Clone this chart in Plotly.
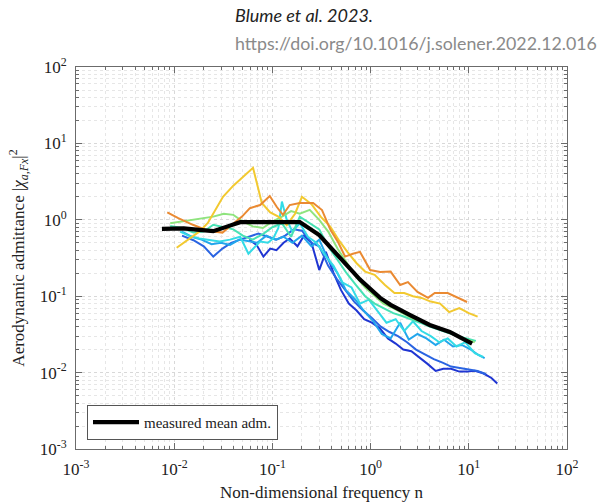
import plotly.graph_objects as go

# ---------------- data ----------------
mean_x = [0.0075, 0.0105, 0.0125, 0.018, 0.025, 0.035, 0.047, 0.1, 0.19, 0.3, 0.49, 0.78, 1.25, 1.6, 2.5, 4.0, 6.4, 10.8]
mean_y = [0.76, 0.77, 0.77, 0.74, 0.71, 0.82, 0.93, 0.935, 0.935, 0.63, 0.32, 0.165, 0.095, 0.077, 0.057, 0.042, 0.034, 0.024]

dblue_x = [0.058, 0.069, 0.081, 0.095, 0.11, 0.13, 0.15, 0.18, 0.21, 0.25, 0.3, 0.35, 0.42, 0.5, 0.6, 0.72, 0.86, 1.03, 1.24, 1.5, 1.8, 2.15, 2.6, 3.1, 3.8, 4.6, 5.5, 6.6, 8.0, 9.6, 11.5, 14.0, 17.0, 19.5]
dblue_y = [0.55, 0.47, 0.33, 0.42, 0.40, 0.50, 0.57, 0.45, 0.62, 0.50, 0.22, 0.38, 0.20, 0.12, 0.08, 0.065, 0.05, 0.045, 0.038, 0.028, 0.024, 0.02, 0.019, 0.016, 0.013, 0.0105, 0.0112, 0.0112, 0.0103, 0.0103, 0.0106, 0.0098, 0.0085, 0.0072]

blue_x = [0.012, 0.0157, 0.02, 0.025, 0.031, 0.038, 0.047, 0.058, 0.072, 0.09, 0.11, 0.135, 0.165, 0.2, 0.25, 0.3, 0.37, 0.45, 0.55, 0.68, 0.84, 1.03, 1.27, 1.56, 1.9, 2.35, 2.9, 3.6, 4.4, 5.4, 6.6, 8.1, 10.0, 12.3, 15.0]
blue_y = [0.62, 0.54, 0.45, 0.33, 0.42, 0.50, 0.55, 0.60, 0.66, 0.60, 0.55, 0.62, 0.75, 0.72, 0.50, 0.45, 0.25, 0.17, 0.12, 0.085, 0.065, 0.052, 0.040, 0.034, 0.030, 0.025, 0.020, 0.017, 0.015, 0.0135, 0.012, 0.0115, 0.011, 0.0105, 0.0095]

lblue_x = [0.012, 0.015, 0.019, 0.024, 0.03, 0.037, 0.046, 0.057, 0.07, 0.087, 0.107, 0.13, 0.16, 0.2, 0.25, 0.3, 0.37, 0.46, 0.56, 0.7, 0.85, 1.05, 1.3, 1.6, 2.0, 2.45, 3.0, 3.7, 4.6, 5.6, 6.9, 8.5, 10.5, 12.5, 14.5]
lblue_y = [0.70, 0.60, 0.55, 0.48, 0.50, 0.47, 0.55, 0.52, 0.50, 0.62, 0.55, 0.60, 0.50, 0.62, 0.45, 0.55, 0.30, 0.20, 0.12, 0.09, 0.065, 0.048, 0.032, 0.028, 0.045, 0.027, 0.032, 0.028, 0.023, 0.027, 0.022, 0.023, 0.020, 0.017, 0.0155]

cyan_x = [0.0115, 0.014, 0.018, 0.023, 0.029, 0.037, 0.047, 0.057, 0.075, 0.09, 0.102, 0.115, 0.125, 0.14, 0.16, 0.19, 0.23, 0.28, 0.34, 0.42, 0.52, 0.64, 0.78, 0.96, 1.2, 1.45, 1.8, 2.2, 2.7, 3.3, 4.1, 5.0, 6.1, 7.5, 9.2, 11.5, 14.0]
cyan_y = [0.70, 0.62, 0.57, 0.55, 0.52, 0.55, 0.60, 0.36, 0.52, 0.50, 0.57, 0.78, 1.73, 1.0, 0.70, 0.90, 0.60, 0.50, 0.35, 0.25, 0.15, 0.13, 0.08, 0.09, 0.062, 0.045, 0.050, 0.035, 0.047, 0.035, 0.030, 0.025, 0.028, 0.022, 0.025, 0.018, 0.016]

teal_x = [0.0091, 0.012, 0.0157, 0.02, 0.025, 0.032, 0.04, 0.05, 0.063, 0.08, 0.1, 0.125, 0.155, 0.19, 0.24, 0.3, 0.37, 0.46, 0.57, 0.71, 0.88, 1.1, 1.35, 1.7, 2.1, 2.6, 3.2, 4.0, 5.0, 6.2, 7.7, 9.5, 11.8]
teal_y = [0.83, 0.78, 0.68, 0.70, 0.86, 0.80, 0.75, 0.62, 0.55, 0.65, 0.80, 0.90, 0.60, 1.10, 0.90, 0.75, 0.45, 0.30, 0.20, 0.14, 0.10, 0.08, 0.07, 0.06, 0.055, 0.05, 0.045, 0.04, 0.036, 0.033, 0.030, 0.028, 0.026]

green_x = [0.0091, 0.012, 0.0157, 0.02, 0.025, 0.032, 0.04, 0.05, 0.063, 0.08, 0.1, 0.125, 0.155, 0.19, 0.24, 0.3, 0.37, 0.46, 0.57, 0.71, 0.88, 1.1, 1.35, 1.7, 2.1, 2.6, 3.2, 4.0, 5.0, 6.2, 7.7, 9.5, 11.5]
green_y = [0.90, 0.95, 1.00, 1.05, 1.10, 1.20, 1.16, 0.95, 0.82, 0.78, 0.95, 1.10, 1.30, 1.20, 1.35, 1.00, 0.70, 0.42, 0.28, 0.18, 0.13, 0.10, 0.08, 0.07, 0.06, 0.052, 0.047, 0.042, 0.037, 0.033, 0.030, 0.027, 0.025]

yellow_x = [0.0106, 0.014, 0.018, 0.022, 0.027, 0.0314, 0.04, 0.0526, 0.0635, 0.078, 0.095, 0.115, 0.14, 0.17, 0.2, 0.25, 0.31, 0.39, 0.47, 0.58, 0.72, 0.88, 1.1, 1.4, 1.75, 2.2, 2.7, 3.3, 4.1, 5.1, 6.3, 8.0, 10.0, 12.3]
yellow_y = [0.43, 0.55, 0.70, 0.91, 1.40, 2.00, 2.80, 3.90, 4.80, 1.66, 1.25, 1.10, 0.85, 1.20, 2.00, 1.60, 1.10, 0.81, 0.55, 0.38, 0.27, 0.21, 0.19, 0.14, 0.11, 0.11, 0.10, 0.095, 0.085, 0.08, 0.062, 0.07, 0.06, 0.054]

orange_x = [0.0085, 0.011, 0.0155, 0.022, 0.031, 0.04, 0.049, 0.059, 0.075, 0.094, 0.111, 0.128, 0.15, 0.19, 0.26, 0.32, 0.39, 0.47, 0.55, 0.66, 0.78, 0.99, 1.25, 1.6, 2.0, 2.4, 3.0, 3.85, 4.5, 6.1, 7.8, 9.6]
orange_y = [1.25, 1.05, 0.86, 0.72, 0.68, 0.90, 1.10, 1.42, 1.56, 2.05, 1.47, 1.16, 1.56, 1.66, 1.66, 1.34, 0.74, 0.50, 0.33, 0.36, 0.38, 0.22, 0.207, 0.21, 0.14, 0.153, 0.114, 0.095, 0.11, 0.11, 0.095, 0.084]

series = [
    (dblue_x, dblue_y, "#1f35d2"),
    (blue_x, blue_y, "#2a64e2"),
    (lblue_x, lblue_y, "#22a6ec"),
    (cyan_x, cyan_y, "#34dbe6"),
    (teal_x, teal_y, "#48e2b4"),
    (green_x, green_y, "#8fe47e"),
    (yellow_x, yellow_y, "#f2c930"),
    (orange_x, orange_y, "#ea8a32"),
]

x_ticks = [1e-3, 1e-2, 1e-1, 1e0, 1e1, 1e2]
x_ticktext = ["10<sup>-3</sup>", "10<sup>-2</sup>", "10<sup>-1</sup>", "10<sup>0</sup>", "10<sup>1</sup>", "10<sup>2</sup>"]
y_ticks = [1e-3, 1e-2, 1e-1, 1e0, 1e1, 1e2]
y_ticktext = ["10<sup>-3</sup>", "10<sup>-2</sup>", "10<sup>-1</sup>", "10<sup>0</sup>", "10<sup>1</sup>", "10<sup>2</sup>"]

minor_vals = [k * 10.0 ** e for e in range(-3, 2) for k in range(2, 10)]

fig = go.Figure()
for sx, sy, col in series:
    fig.add_trace(go.Scatter(x=sx, y=sy, mode="lines", line=dict(color=col, width=2),
                             showlegend=False, hoverinfo="skip"))
fig.add_trace(go.Scatter(x=mean_x, y=mean_y, mode="lines", line=dict(color="black", width=4.2),
                         name="measured mean adm.", showlegend=True, hoverinfo="skip"))

serif = "Liberation Serif, Times New Roman, serif"
axis_common = dict(
    type="log",
    showline=True, linecolor="#6b6b6b", linewidth=1, mirror="allticks",
    ticks="inside", ticklen=6, tickcolor="#6b6b6b",
    showgrid=True, gridcolor="#d8d8d8", griddash="dot", gridwidth=1,
    zeroline=False,
    tickfont=dict(family=serif, size=17, color="#222"),
    minor=dict(tickmode="array", tickvals=minor_vals, ticks="inside", ticklen=3,
               tickcolor="#6b6b6b", showgrid=True, gridcolor="#e6e6e6", griddash="dot"),
)

fig.update_xaxes(range=[-3, 2], tickmode="array", tickvals=x_ticks, ticktext=x_ticktext,
                 ticklabelstandoff=5,
                 title=dict(text="Non-dimensional frequency n", font=dict(family=serif, size=17, color="#222"),
                            standoff=7),
                 **axis_common)
fig.update_yaxes(range=[-3, 2], tickmode="array", tickvals=y_ticks, ticktext=y_ticktext,
                 ticklabelstandoff=5,
                 title=dict(text="Aerodynamic admittance |<i>χ</i><sub><i>a,Fx</i></sub>|<sup>2</sup>",
                            font=dict(family=serif, size=17, color="#222"), standoff=10),
                 **axis_common)

fig.update_layout(
    width=598, height=504,
    margin=dict(l=76, r=31, t=67, b=55, autoexpand=False),
    paper_bgcolor="white", plot_bgcolor="white",
    hovermode=False,
    legend=dict(x=0.0224, y=0.024, xanchor="left", yanchor="bottom",
                bgcolor="white", bordercolor="#555", borderwidth=1,
                font=dict(family=serif, size=15, color="#222"),
                itemwidth=46, tracegroupgap=0),
    annotations=[
        dict(text="<i>Blume et al. 2023.</i>", xref="paper", yref="paper", x=(233 - 76) / 491, y=1 + (67 - 15) / 382,
             xanchor="left", yanchor="middle", showarrow=False, align="left",
             font=dict(family="Lato, Open Sans, sans-serif", size=18, color="#222")),
        dict(text="https://doi.org/10.1016/j.solener.2022.12.016", xref="paper", yref="paper",
             x=(233 - 76) / 491, y=1 + (67 - 43) / 382,
             xanchor="left", yanchor="middle", showarrow=False, align="left",
             font=dict(family="Lato, Open Sans, sans-serif", size=17.8, color="#8a8a8a")),
    ],
)

fig.write_html("out.html", config={"displayModeBar": False},
               post_script="document.body.style.margin='0px';")
